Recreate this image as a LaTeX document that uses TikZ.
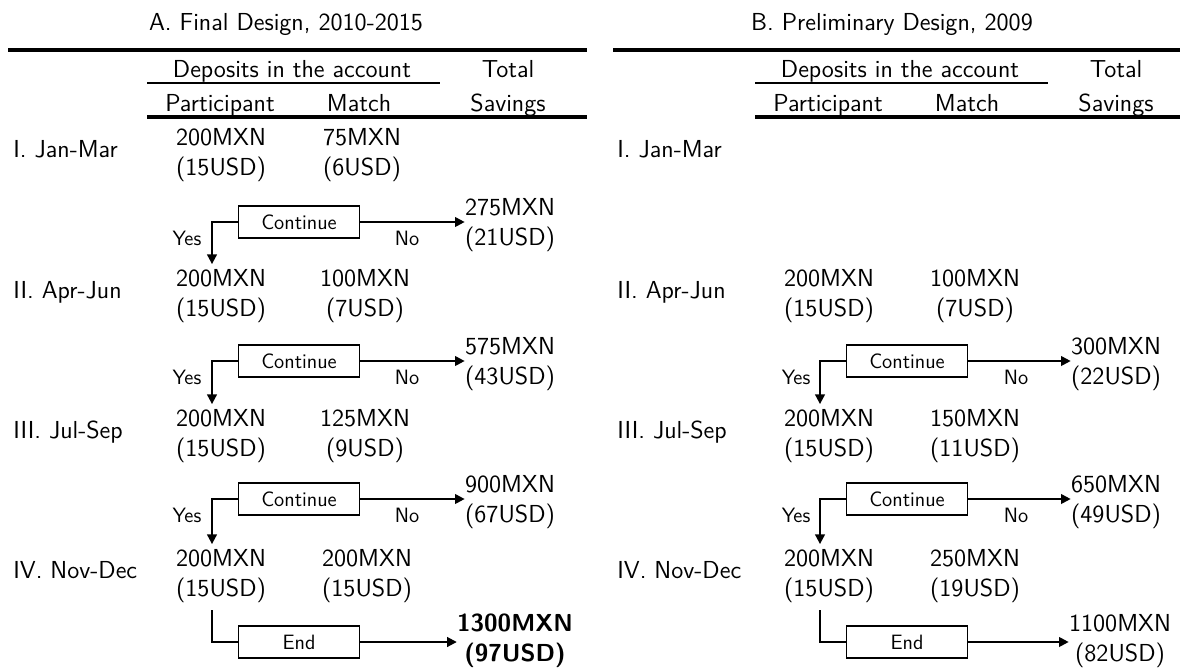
\documentclass[tikz,border=0pt]{standalone}
\usetikzlibrary{arrows.meta}
\begin{document}
\begin{tikzpicture}[x=0.02cm,y=-0.02cm,
  big/.style={font=\sffamily\fontsize{14}{17}\selectfont},
  hdr/.style={big, inner sep=0pt, anchor=base},
  lbl/.style={big, inner sep=0pt, anchor=base west},
  val/.style={big, align=center, inner sep=0pt},
  fval/.style={font=\sffamily\bfseries\fontsize{14}{17}\selectfont, align=center, inner sep=0pt},
  small/.style={font=\sffamily\fontsize{11.8}{14}\selectfont, inner sep=0pt},
  cbox/.style={draw, line width=1pt, minimum width=2.42cm, minimum height=0.64cm, inner sep=0pt, font=\sffamily\fontsize{11.8}{14}\selectfont},
  conn/.style={line width=1.1pt},
  arr/.style={conn, -{Triangle[length=5.5pt,width=5.5pt]}},
  toprule/.style={line width=1.9pt},
  subrule/.style={line width=1.5pt}]
\useasboundingbox (0,0) rectangle (1180,670);

% ---------------- Panel A ----------------
\node[hdr] (tA) at (286,30) {A. Final Design, 2010-2015};
\draw[toprule] (8,50) -- (587,50);
\node[hdr] (dA) at (292,77) {Deposits in the account};
\draw[subrule] (147,83) -- (440,83);
\node[hdr] (totA) at (508,77) {Total};
\node[hdr] (parA) at (220,111) {Participant};
\node[hdr] (matA) at (359,111) {Match};
\node[hdr] (savA) at (508,111) {Savings};
\draw[toprule] (147,117) -- (587,117);

\node[lbl] (r1A) at (13,157.5) {I. Jan-Mar};
\node[lbl] (r2A) at (13,298.5) {II. Apr-Jun};
\node[lbl] (r3A) at (13,438.5) {III. Jul-Sep};
\node[lbl] (r4A) at (13,578.5) {IV. Nov-Dec};

\node[val] (p1A) at (221,155) {200MXN\\(15USD)};
\node[val] (m1A) at (362,155) {75MXN\\(6USD)};
\node[val] (p2A) at (221,296) {200MXN\\(15USD)};
\node[val] (m2A) at (365,296) {100MXN\\(7USD)};
\node[val] (p3A) at (221,436) {200MXN\\(15USD)};
\node[val] (m3A) at (365,436) {125MXN\\(9USD)};
\node[val] (p4A) at (221,576) {200MXN\\(15USD)};
\node[val] (m4A) at (367,576) {200MXN\\(15USD)};

\node[cbox] (c1A) at (299,222) {Continue};
\node[cbox] (c2A) at (299,361) {Continue};
\node[cbox] (c3A) at (299,499) {Continue};
\node[cbox] (eA) at (299,642) {End};

\node[val] (t1A) at (510,225) {275MXN\\(21USD)};
\node[val] (t2A) at (510,364) {575MXN\\(43USD)};
\node[val] (t3A) at (510,502) {900MXN\\(67USD)};
\node[fval] (fA) at (515,641) {1300MXN\\(97USD)};

\node[small] (y1A) at (187,238) {Yes};
\node[small] (y2A) at (187,377) {Yes};
\node[small] (y3A) at (187,515) {Yes};
\node[small] (n1A) at (407,238) {No};
\node[small] (n2A) at (407,377) {No};
\node[small] (n3A) at (407,515) {No};

\draw[arr] (c1A.west) -| ([xshift=-0.18cm,yshift=0.1cm]p2A.north);
\draw[arr] (c2A.west) -| ([xshift=-0.18cm,yshift=0.1cm]p3A.north);
\draw[arr] (c3A.west) -| ([xshift=-0.18cm,yshift=0.1cm]p4A.north);
\draw[arr] (c1A.east) -- (c1A.east -| t1A.west);
\draw[arr] (c2A.east) -- (c2A.east -| t2A.west);
\draw[arr] (c3A.east) -- (c3A.east -| t3A.west);
\draw[conn] ([xshift=-0.18cm,yshift=-0.15cm]p4A.south) |- (eA.west);
\draw[arr] (eA.east) -- (eA.east -| fA.west);

% ---------------- Panel B ----------------
\node[hdr] (tB) at (892,30) {B. Preliminary Design, 2009};
\draw[toprule] (613,50) -- (1180,50);
\node[hdr] (dB) at (900,77) {Deposits in the account};
\draw[subrule] (755,83) -- (1048,83);
\node[hdr] (totB) at (1116,77) {Total};
\node[hdr] (parB) at (828,111) {Participant};
\node[hdr] (matB) at (967,111) {Match};
\node[hdr] (savB) at (1116,111) {Savings};
\draw[toprule] (755,117) -- (1180,117);

\node[lbl] (r1B) at (617,157.5) {I. Jan-Mar};
\node[lbl] (r2B) at (617,298.5) {II. Apr-Jun};
\node[lbl] (r3B) at (617,438.5) {III. Jul-Sep};
\node[lbl] (r4B) at (617,578.5) {IV. Nov-Dec};

\node[val] (p2B) at (829,296) {200MXN\\(15USD)};
\node[val] (m2B) at (975,296) {100MXN\\(7USD)};
\node[val] (p3B) at (829,436) {200MXN\\(15USD)};
\node[val] (m3B) at (975,436) {150MXN\\(11USD)};
\node[val] (p4B) at (829,576) {200MXN\\(15USD)};
\node[val] (m4B) at (975,576) {250MXN\\(19USD)};

\node[cbox] (c2B) at (907,361) {Continue};
\node[cbox] (c3B) at (907,499) {Continue};
\node[cbox] (eB) at (907,642) {End};

\node[val] (t2B) at (1116,364) {300MXN\\(22USD)};
\node[val] (t3B) at (1116,502) {650MXN\\(49USD)};
\node[val] (fB) at (1120,641) {1100MXN\\(82USD)};

\node[small] (y2B) at (796,377) {Yes};
\node[small] (y3B) at (796,515) {Yes};
\node[small] (n2B) at (1016,377) {No};
\node[small] (n3B) at (1016,515) {No};

\draw[arr] (c2B.west) -| ([xshift=-0.18cm,yshift=0.1cm]p3B.north);
\draw[arr] (c3B.west) -| ([xshift=-0.18cm,yshift=0.1cm]p4B.north);
\draw[arr] (c2B.east) -- (c2B.east -| t2B.west);
\draw[arr] (c3B.east) -- (c3B.east -| t3B.west);
\draw[conn] ([xshift=-0.18cm,yshift=-0.15cm]p4B.south) |- (eB.west);
\draw[arr] (eB.east) -- (eB.east -| fB.west);
\end{tikzpicture}
\end{document}
